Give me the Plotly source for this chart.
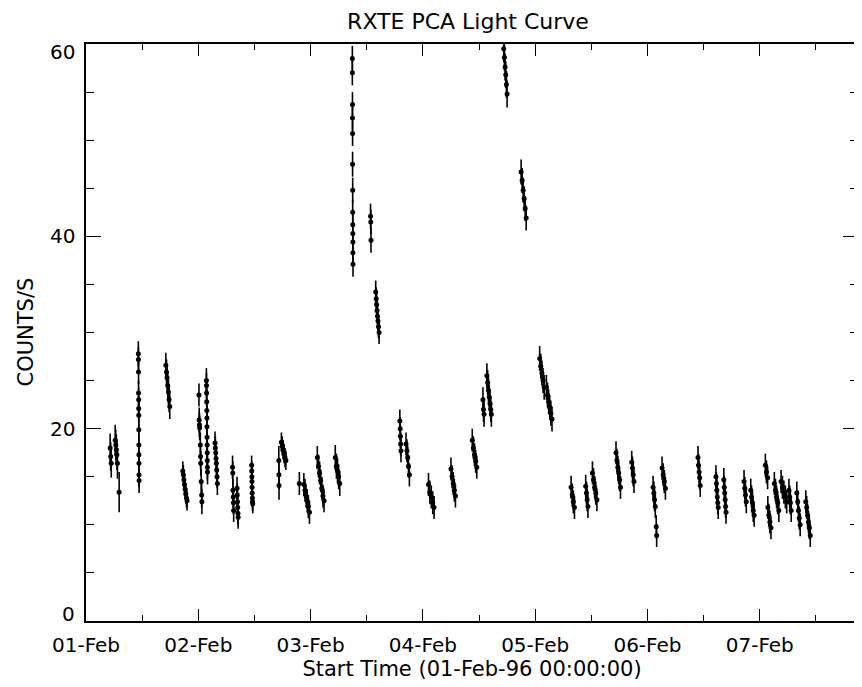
import plotly.graph_objects as go

# Time in days since 01-Feb-96 00:00:00
time_days = [
    0.215, 0.220, 0.225, 0.260, 0.265, 0.270, 0.275, 0.280, 0.295,
    0.466, 0.467, 0.468, 0.468, 0.469, 0.469, 0.470, 0.470, 0.471, 0.471, 0.472, 0.472, 0.473,
    0.711, 0.717, 0.722, 0.728, 0.734, 0.740, 0.746,
    0.862, 0.867, 0.872, 0.877, 0.883, 0.889, 0.895, 0.900,
    1.006, 1.008, 1.010, 1.012, 1.018, 1.020, 1.022, 1.026, 1.030, 1.032,
    1.072, 1.073, 1.074, 1.075, 1.076, 1.077, 1.077, 1.078, 1.079, 1.080, 1.080, 1.081, 1.082,
    1.149, 1.152, 1.155, 1.158, 1.161, 1.164, 1.167, 1.170,
    1.305, 1.307, 1.309, 1.311, 1.313, 1.315, 1.345, 1.347, 1.349, 1.351, 1.353, 1.355,
    1.475, 1.476, 1.477, 1.478, 1.479, 1.480, 1.482, 1.483, 1.485,
    1.717, 1.718, 1.719, 1.740, 1.748, 1.756, 1.764, 1.772, 1.780,
    1.900, 1.940, 1.950, 1.960, 1.970, 1.980, 1.990,
    2.060, 2.070, 2.080, 2.090, 2.100, 2.110, 2.120,
    2.220, 2.230, 2.240, 2.250, 2.260,
    2.372, 2.372, 2.373, 2.373, 2.374, 2.374, 2.375, 2.375, 2.376, 2.376, 2.377, 2.377, 2.378,
    2.534, 2.536, 2.538,
    2.580, 2.584, 2.588, 2.592, 2.596, 2.600, 2.605, 2.610,
    2.795, 2.798, 2.800, 2.802, 2.805, 2.850, 2.858, 2.865, 2.872, 2.880,
    3.050, 3.062, 3.075, 3.088, 3.100,
    3.250, 3.260, 3.270, 3.280, 3.290,
    3.440, 3.450, 3.460, 3.470, 3.480,
    3.535, 3.540, 3.545, 3.570, 3.577, 3.584, 3.591, 3.598, 3.605, 3.610,
    3.720, 3.726, 3.732, 3.738, 3.744, 3.750,
    3.875, 3.884, 3.893, 3.902, 3.911, 3.920,
    4.040, 4.050, 4.060, 4.070, 4.080, 4.100, 4.110, 4.120, 4.130, 4.140, 4.150,
    4.320, 4.330, 4.340, 4.350,
    4.450, 4.457, 4.463, 4.470,
    4.510, 4.520, 4.530, 4.540, 4.550,
    4.720, 4.728, 4.736, 4.744, 4.752, 4.760,
    4.860, 4.867, 4.873, 4.880,
    5.050, 5.057, 5.063, 5.070, 5.078, 5.082,
    5.130, 5.140, 5.150, 5.160,
    5.450, 5.455, 5.460, 5.465, 5.470,
    5.610, 5.614, 5.618, 5.622, 5.626, 5.630,
    5.680, 5.684, 5.688, 5.692, 5.696, 5.700,
    5.860, 5.867, 5.873, 5.880,
    5.920, 5.927, 5.935, 5.942, 5.950,
    6.050, 6.060, 6.070,
    6.072, 6.081, 6.090, 6.100,
    6.130, 6.140, 6.150, 6.160, 6.170,
    6.190, 6.202, 6.215, 6.228, 6.240,
    6.260, 6.267, 6.273, 6.280,
    6.330, 6.338, 6.345, 6.352, 6.360,
    6.410, 6.418, 6.426, 6.434, 6.442, 6.450,
]

rate = [
    18.0, 17.1, 16.4, 18.8, 18.3, 17.8, 17.3, 16.4, 13.4,
    27.8, 27.2, 25.9, 23.7, 23.0, 22.1, 21.4, 19.9, 18.3, 17.3, 16.4, 15.2, 14.6,
    26.6, 25.9, 25.3, 24.5, 23.8, 23.0, 22.3,
    15.6, 15.2, 14.7, 14.2, 13.7, 13.2, 12.8, 12.5,
    23.5, 20.9, 20.4, 20.1, 18.3, 17.1, 16.4, 14.5, 13.1, 12.4,
    25.0, 24.5, 23.7, 22.8, 21.9, 21.1, 20.2, 19.1, 18.3, 17.5, 16.7, 16.0, 15.5,
    18.5, 18.0, 17.5, 16.9, 16.4, 15.7, 15.0, 14.3,
    16.0, 15.4, 13.6, 12.9, 12.3, 11.5, 13.8, 13.1, 12.4, 11.8, 11.2, 10.8,
    16.2, 15.6, 15.0, 14.5, 13.9, 13.3, 12.8, 12.4, 12.2,
    16.7, 15.2, 14.1, 18.6, 18.2, 17.8, 17.4, 17.0, 16.7,
    14.3, 14.2, 13.6, 13.0, 12.5, 11.9, 11.3,
    17.0, 16.1, 15.4, 14.6, 13.8, 13.0, 12.5,
    17.0, 16.1, 15.6, 15.0, 14.3,
    58.5, 57.0, 53.7, 52.3, 50.7, 47.5, 44.8, 42.5, 41.2, 40.3, 39.4, 38.3, 37.1,
    42.1, 41.5, 39.6,
    34.2, 33.5, 32.9, 32.3, 31.7, 31.2, 30.6, 30.0,
    20.8, 20.0, 19.2, 18.4, 17.7, 18.4, 17.7, 17.0, 16.1, 15.2,
    14.2, 13.4, 12.9, 12.3, 11.8,
    15.8, 15.0, 14.3, 13.6, 13.0,
    18.8, 18.0, 17.3, 16.6, 16.0,
    23.0, 22.0, 21.5, 25.5, 24.8, 24.0, 23.3, 22.6, 22.0, 21.5,
    59.5, 58.6, 57.6, 56.8, 55.8, 54.8,
    46.7, 45.8, 44.8, 43.9, 42.9, 41.9,
    27.3, 26.5, 25.8, 25.0, 24.3, 24.3, 23.5, 22.8, 22.2, 21.6, 21.0,
    13.9, 13.1, 12.4, 11.8,
    14.0, 13.3, 12.6, 11.9,
    15.4, 14.7, 13.9, 13.3, 12.6,
    17.5, 16.7, 16.0, 15.4, 14.7, 13.9,
    16.5, 15.9, 15.2, 14.5,
    13.9, 13.3, 12.6, 11.9, 9.8, 8.9,
    15.9, 15.2, 14.5, 13.8,
    17.0, 16.2, 15.5, 14.9, 14.1,
    15.0, 14.3, 13.6, 12.9, 12.3, 11.8,
    14.7, 13.9, 13.3, 12.6, 11.9, 11.3,
    14.5, 13.8, 13.1, 12.4,
    13.6, 12.9, 12.3, 11.5, 11.0,
    16.2, 15.5, 14.9,
    11.8, 11.0, 10.3, 9.7,
    14.3, 13.6, 12.9, 12.3, 11.5,
    14.5, 13.9, 13.4, 12.9, 12.4,
    13.6, 12.9, 12.3, 11.5,
    13.3, 12.4, 11.5, 10.7, 10.0,
    12.4, 11.8, 11.0, 10.3, 9.7, 8.9,
]

rate_err = [
    1.5, 1.5, 1.5, 1.6, 1.6, 1.6, 1.6, 1.6, 2.1,
    1.3, 1.3, 1.3, 1.3, 1.3, 1.3, 1.3, 1.3, 1.3, 1.3, 1.3, 1.3, 1.3,
    1.3, 1.3, 1.3, 1.3, 1.3, 1.3, 1.3,
    1.0, 1.0, 1.0, 1.0, 1.0, 1.0, 1.0, 1.0,
    1.2, 1.3, 1.3, 1.3, 1.3, 1.3, 1.3, 1.3, 1.3, 1.3,
    1.3, 1.3, 1.3, 1.3, 1.3, 1.3, 1.3, 1.3, 1.3, 1.3, 1.3, 1.3, 1.3,
    1.2, 1.2, 1.2, 1.2, 1.2, 1.2, 1.2, 1.2,
    1.2, 1.2, 1.2, 1.2, 1.2, 1.2, 1.2, 1.2, 1.2, 1.2, 1.2, 1.2,
    1.0, 1.0, 1.0, 1.0, 1.0, 1.0, 1.0, 1.0, 1.0,
    1.5, 1.5, 1.5, 1.0, 1.0, 1.0, 1.0, 1.0, 1.0,
    1.2, 1.2, 1.2, 1.2, 1.2, 1.2, 1.2,
    1.2, 1.2, 1.2, 1.2, 1.2, 1.2, 1.2,
    1.3, 1.3, 1.3, 1.3, 1.3,
    1.3, 1.3, 1.3, 1.3, 1.3, 1.3, 1.3, 1.3, 1.3, 1.3, 1.3, 1.3, 1.3,
    1.3, 1.3, 1.3,
    1.2, 1.2, 1.2, 1.2, 1.2, 1.2, 1.2, 1.2,
    1.2, 1.2, 1.2, 1.2, 1.2, 1.2, 1.2, 1.2, 1.2, 1.2,
    1.2, 1.2, 1.2, 1.2, 1.2,
    1.2, 1.2, 1.2, 1.2, 1.2,
    1.2, 1.2, 1.2, 1.2, 1.2,
    1.3, 1.3, 1.3, 1.3, 1.3, 1.3, 1.3, 1.3, 1.3, 1.3,
    1.4, 1.4, 1.4, 1.4, 1.4, 1.4,
    1.3, 1.3, 1.3, 1.3, 1.3, 1.3,
    1.3, 1.3, 1.3, 1.3, 1.3, 1.3, 1.3, 1.3, 1.3, 1.3, 1.3,
    1.2, 1.2, 1.2, 1.2,
    1.2, 1.2, 1.2, 1.2,
    1.2, 1.2, 1.2, 1.2, 1.2,
    1.2, 1.2, 1.2, 1.2, 1.2, 1.2,
    1.2, 1.2, 1.2, 1.2,
    1.2, 1.2, 1.2, 1.2, 1.2, 1.2,
    1.2, 1.2, 1.2, 1.2,
    1.2, 1.2, 1.2, 1.2, 1.2,
    1.2, 1.2, 1.2, 1.2, 1.2, 1.2,
    1.2, 1.2, 1.2, 1.2, 1.2, 1.2,
    1.2, 1.2, 1.2, 1.2,
    1.2, 1.2, 1.2, 1.2, 1.2,
    1.2, 1.2, 1.2,
    1.2, 1.2, 1.2, 1.2,
    1.2, 1.2, 1.2, 1.2, 1.2,
    1.2, 1.2, 1.2, 1.2, 1.2,
    1.2, 1.2, 1.2, 1.2,
    1.2, 1.2, 1.2, 1.2, 1.2,
    1.2, 1.2, 1.2, 1.2, 1.2, 1.2,
]

day_ticks = [0, 1, 2, 3, 4, 5, 6]
day_labels = ["01-Feb", "02-Feb", "03-Feb", "04-Feb", "05-Feb", "06-Feb", "07-Feb"]
y_ticks = [0, 20, 40, 60]
y_tick_labels = ["0", "20", "40", "60"]
# IDL-style nudge of the end labels so they sit inside the axis span (pixels)
y_label_shift = [7, 0, 0, -8]

FONT = "DejaVu Sans"
# the page body adds an 8 px margin, so the figure is drawn 8 px smaller
FIG_W, FIG_H = 854, 679

fig = go.Figure()
fig.add_trace(go.Scatter(
    x=time_days, y=rate, mode="markers",
    marker=dict(symbol="circle", size=5, color="black"),
    error_y=dict(type="data", array=rate_err, visible=True,
                 color="black", thickness=1.6, width=0),
    cliponaxis=True, showlegend=False,
))

axis_common = dict(
    showline=True, linecolor="black", linewidth=1.6, mirror="allticks",
    ticks="inside", tickcolor="black", tickwidth=1.4,
    showgrid=False, zeroline=False, automargin=False,
)

fig.update_xaxes(
    range=[0, 6.875], tickmode="array", tickvals=day_ticks, ticktext=day_labels,
    ticklen=12, ticklabelstandoff=5,
    tickfont=dict(family=FONT, size=20, color="black"),
    minor=dict(dtick=0.5, tick0=0, ticks="inside", ticklen=6, tickcolor="black", tickwidth=1.2, showgrid=False),
    title=dict(text="Start Time (01-Feb-96 00:00:00)", font=dict(family=FONT, size=21, color="black"), standoff=1),
    **axis_common,
)
fig.update_yaxes(
    range=[0, 60], tickmode="array", tickvals=y_ticks, showticklabels=False,
    ticklen=15,
    minor=dict(dtick=5, tick0=0, ticks="inside", ticklen=8, tickcolor="black", tickwidth=1.2, showgrid=False),
    **axis_common,
)

annotations = []
for v, txt, sh in zip(y_ticks, y_tick_labels, y_label_shift):
    annotations.append(dict(
        x=0, xref="paper", y=v, yref="y", text=txt, showarrow=False,
        xanchor="right", yanchor="middle", xshift=-9, yshift=sh,
        font=dict(family=FONT, size=20, color="black"),
    ))
annotations.append(dict(
    x=0, xref="paper", y=0.5, yref="paper", text="COUNTS/S", showarrow=False,
    textangle=-90, xanchor="center", yanchor="middle", xshift=-61,
    font=dict(family=FONT, size=21, color="black"),
))

fig.update_layout(
    width=FIG_W, height=FIG_H,
    margin=dict(l=78, r=4, t=36, b=66),
    paper_bgcolor="white", plot_bgcolor="white",
    title=dict(text="RXTE PCA Light Curve", x=460 / FIG_W, xanchor="center",
               y=1 - 13.5 / FIG_H, yref="container", yanchor="middle",
               font=dict(family=FONT, size=22, color="black")),
    annotations=annotations,
    showlegend=False,
)

fig.write_html("out.html")
